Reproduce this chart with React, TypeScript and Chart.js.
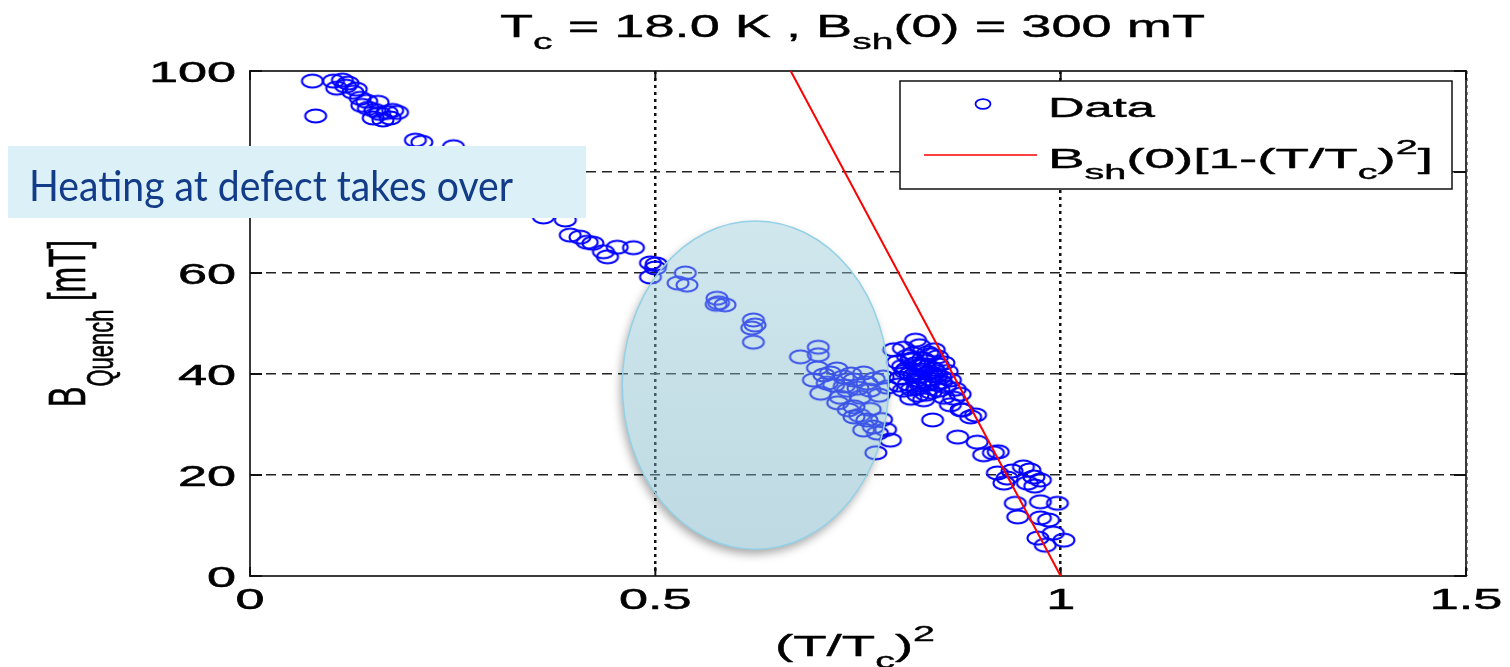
import React, { useEffect, useRef } from "react";
import { Chart, registerables } from "chart.js";

Chart.register(...registerables);

// ---------- data ----------
const dataX = [
  0.077, 0.081, 0.103, 0.107, 0.114, 0.121, 0.127, 0.136, 0.138, 0.146, 0.154, 0.160, 0.169, 0.176, 0.182, 0.152, 0.164, 0.173, 0.158, 0.144, 0.131, 0.118,
  0.204, 0.212, 0.251, 0.275, 0.300, 0.325, 0.345, 0.362, 0.389, 0.395, 0.407, 0.416, 0.423, 0.436, 0.441, 0.453, 0.473, 0.494, 0.500, 0.494, 0.501,
  0.537, 0.528, 0.539, 0.576, 0.578, 0.586, 0.575, 0.621, 0.623, 0.619, 0.621, 0.679, 0.701, 0.701,
  0.700, 0.695, 0.704, 0.716, 0.720, 0.725, 0.732, 0.737, 0.745, 0.745, 0.753, 0.757, 0.761, 0.765, 0.761, 0.769, 0.757, 0.774, 0.772, 0.745, 0.738, 0.728, 0.712, 0.781, 0.786, 0.794, 0.790, 0.708, 0.724, 0.741, 0.750, 0.770, 0.776, 0.733, 0.765, 0.752, 0.779, 0.784,
  0.821, 0.806, 0.799, 0.815, 0.836, 0.848, 0.856, 0.802, 0.819, 0.836, 0.852, 0.864, 0.806, 0.823, 0.840, 0.856, 0.868, 0.815, 0.831, 0.864, 0.879, 0.889, 0.842,
  0.810, 0.826, 0.830, 0.843, 0.812, 0.828, 0.846, 0.858, 0.818, 0.834, 0.850, 0.824, 0.808, 0.838, 0.826, 0.844, 0.800, 0.860, 0.870, 0.876,
  0.814, 0.820, 0.824, 0.829, 0.833, 0.837, 0.841, 0.816, 0.822, 0.827, 0.832, 0.845, 0.849, 0.811, 0.817, 0.839, 0.853, 0.805, 0.847, 0.835,
  0.873, 0.897, 0.905, 0.917, 0.923, 0.922, 0.934, 0.930, 0.954, 0.967, 0.959, 0.975, 0.944, 0.947, 0.975, 0.996, 0.975, 0.985, 1.004, 0.981, 0.991, 0.972, 0.962, 0.940, 0.968, 0.877, 0.895,
];
const dataY = [
  98.0, 91.1, 98.0, 96.6, 98.2, 97.6, 95.8, 94.6, 93.2, 92.6, 92.2, 91.6, 91.8, 92.2, 91.8, 90.7, 90.3, 90.7, 93.8, 94.0, 96.4, 97.0,
  86.3, 85.9, 85.0, 81.5, 78.0, 75.0, 72.5, 71.1, 70.5, 67.5, 67.1, 66.1, 65.9, 64.2, 63.2, 65.1, 65.0, 62.0, 61.0, 59.2, 61.8,
  60.0, 58.0, 57.6, 55.0, 54.1, 53.7, 53.8, 50.7, 49.7, 49.1, 46.3, 43.4, 45.3, 43.8,
  41.2, 38.8, 36.2, 40.2, 37.8, 34.3, 39.4, 36.8, 33.5, 38.8, 35.4, 40.2, 38.2, 36.8, 30.9, 29.5, 28.9, 28.3, 24.4, 31.5, 32.9, 35.4, 38.2, 39.4, 37.4, 44.8, 26.9, 39.8, 41.0, 40.0, 37.2, 39.0, 35.8, 37.6, 33.0, 31.8, 31.0, 29.0,
  46.7, 45.1, 42.4, 42.8, 44.2, 43.4, 42.2, 39.2, 39.8, 40.2, 39.4, 38.8, 36.8, 37.2, 36.4, 35.4, 35.2, 35.2, 34.9, 33.9, 32.9, 31.5, 30.9,
  41.0, 41.5, 43.0, 41.0, 38.0, 38.5, 38.0, 37.5, 44.0, 36.0, 36.8, 35.8, 40.5, 39.0, 45.6, 44.8, 37.8, 40.5, 37.0, 36.0,
  40.0, 42.0, 39.5, 40.8, 42.5, 38.0, 39.8, 37.0, 38.8, 37.8, 41.8, 40.5, 41.8, 43.5, 43.0, 43.8, 38.4, 41.5, 39.6, 38.2,
  27.5, 26.5, 24.0, 24.4, 24.6, 20.4, 19.4, 18.4, 21.6, 19.6, 18.4, 19.0, 14.4, 11.7, 14.7, 14.4, 11.5, 11.1, 7.1, 6.1, 8.5, 7.5, 21.0, 20.8, 17.8, 32.9, 31.9,
];
// model curve Bsh(0)[1-(T/Tc)^2], read where it enters/leaves the plot
const fitX = [0.667, 1.0];
const fitY = [100, 0];

const xTickValues = [0, 0.5, 1, 1.5];
const xTickLabels = ["0", "0.5", "1", "1.5"];
const yTickValues = [0, 20, 40, 60, 80, 100];
const yTickLabels = ["0", "20", "40", "60", "80", "100"];

type Seg = { t: string; s?: "sub" | "sup" };
const titleSegs: Seg[] = [{ t: "T" }, { t: "c", s: "sub" }, { t: " = 18.0 K , B" }, { t: "sh", s: "sub" }, { t: "(0) = 300 mT" }];
const xLabelSegs: Seg[] = [{ t: "(T/T" }, { t: "c", s: "sub" }, { t: ")" }, { t: "2", s: "sup" }];
const yLabelSegs: Seg[] = [{ t: "B" }, { t: "Quench", s: "sub" }, { t: " [mT]" }];
const legendDataSegs: Seg[] = [{ t: "Data" }];
const legendFitSegs: Seg[] = [{ t: "B" }, { t: "sh", s: "sub" }, { t: "(0)[1-(T/T" }, { t: "c", s: "sub" }, { t: ")" }, { t: "2", s: "sup" }, { t: "]" }];
const annotationText = "Heating at defect takes over";

const ARIAL = "'Liberation Sans', Arial, sans-serif";

function measureRich(ctx: CanvasRenderingContext2D, segs: Seg[], size: number, family: string) {
  let w = 0;
  for (const sg of segs) {
    ctx.font = `${sg.s ? size * 0.72 : size}px ${family}`;
    w += ctx.measureText(sg.t).width;
  }
  return w;
}

function drawSegs(ctx: CanvasRenderingContext2D, segs: Seg[], size: number, family: string, subOff: number, supOff: number, stroke = 0) {
  let cx = 0;
  for (const sg of segs) {
    const fs = sg.s ? size * 0.72 : size;
    ctx.font = `${fs}px ${family}`;
    const dy = sg.s === "sub" ? size * subOff : sg.s === "sup" ? -size * supOff : 0;
    ctx.fillText(sg.t, cx, dy);
    if (stroke > 0) {
      ctx.lineWidth = stroke;
      ctx.strokeText(sg.t, cx, dy);
    }
    cx += ctx.measureText(sg.t).width;
  }
}

// horizontal rich text, stretched to a target width
function drawRichFit(ctx: CanvasRenderingContext2D, segs: Seg[], x: number, y: number, width: number, size: number, family: string, color: string, subOff = 0.4, supOff = 0.45, stroke = 0.4) {
  const nat = measureRich(ctx, segs, size, family);
  ctx.save();
  ctx.fillStyle = color;
  ctx.strokeStyle = color;
  ctx.lineJoin = "round";
  ctx.textBaseline = "alphabetic";
  ctx.textAlign = "left";
  ctx.translate(x, y);
  ctx.scale(width / nat, 1);
  drawSegs(ctx, segs, size, family, subOff, supOff, stroke);
  ctx.restore();
}

function makeMarker(w: number, h: number, rx: number, ry: number, lw: number) {
  const c = document.createElement("canvas");
  c.width = w;
  c.height = h;
  const g = c.getContext("2d")!;
  g.strokeStyle = "#0000ff";
  g.lineWidth = lw;
  g.beginPath();
  g.ellipse(w / 2, h / 2, rx, ry, 0, 0, Math.PI * 2);
  g.stroke();
  return c;
}
const markerCanvas = makeMarker(26, 18, 10.5, 6.5, 2);
const legendMarker = makeMarker(20, 14, 7.5, 4.8, 1.8);

const decorPlugin = {
  id: "decor",
  beforeDatasetsDraw(chart: any) {
    const { ctx, chartArea: a } = chart;
    ctx.save();
    ctx.strokeStyle = "#3a3a3a";
    ctx.lineWidth = 2;
    ctx.strokeRect(a.left, a.top, a.right - a.left, a.bottom - a.top);
    const xs = chart.scales.x, ys = chart.scales.y;
    ctx.strokeStyle = "#111";
    ctx.lineWidth = 2;
    ctx.beginPath();
    for (const v of xTickValues) {
      const px = xs.getPixelForValue(v);
      ctx.moveTo(px, a.bottom); ctx.lineTo(px, a.bottom - 9);
      ctx.moveTo(px, a.top); ctx.lineTo(px, a.top + 9);
    }
    for (const v of yTickValues) {
      const py = ys.getPixelForValue(v);
      ctx.moveTo(a.left, py); ctx.lineTo(a.left + 12, py);
      ctx.moveTo(a.right, py); ctx.lineTo(a.right - 12, py);
    }
    ctx.stroke();
    ctx.restore();
  },
  afterDraw(chart: any) {
    const { ctx } = chart;
    const xs = chart.scales.x, ys = chart.scales.y;

    // highlighted ellipse (semi-transparent, over the data)
    const cx = xs.getPixelForValue(0.6235), cy = ys.getPixelForValue(37.8);
    const rx = xs.getPixelForValue(0.6235 + 0.1642) - cx;
    const ry = cy - ys.getPixelForValue(37.8 + 32.5);
    ctx.save();
    ctx.beginPath();
    ctx.rect(0, 0, 1510, 667);
    ctx.ellipse(cx, cy, rx, ry, 0, 0, Math.PI * 2);
    ctx.clip("evenodd");
    ctx.shadowColor = "rgba(0,0,0,0.35)";
    ctx.shadowBlur = 10;
    ctx.shadowOffsetX = -2;
    ctx.shadowOffsetY = 5;
    ctx.fillStyle = "#fff";
    ctx.beginPath();
    ctx.ellipse(cx, cy, rx, ry, 0, 0, Math.PI * 2);
    ctx.fill();
    ctx.restore();
    ctx.save();
    const grad = ctx.createLinearGradient(0, cy - ry, 0, cy + ry);
    grad.addColorStop(0, "rgba(150,202,215,0.45)");
    grad.addColorStop(1, "rgba(112,172,192,0.45)");
    ctx.fillStyle = grad;
    ctx.beginPath();
    ctx.ellipse(cx, cy, rx, ry, 0, 0, Math.PI * 2);
    ctx.fill();
    ctx.strokeStyle = "#95d1e6";
    ctx.lineWidth = 1.5;
    ctx.stroke();
    ctx.restore();

    // tick labels
    ctx.save();
    ctx.fillStyle = "#000";
    ctx.strokeStyle = "#000";
    ctx.lineWidth = 0.5;
    const tsx = 1.8, tfs = 29;
    ctx.font = `${tfs}px ${ARIAL}`;
    xTickValues.forEach((v, i) => {
      const px = xs.getPixelForValue(v);
      const w = ctx.measureText(xTickLabels[i]).width * tsx;
      ctx.save();
      ctx.translate(px - w / 2, 609);
      ctx.scale(tsx, 1);
      ctx.fillText(xTickLabels[i], 0, 0);
      ctx.strokeText(xTickLabels[i], 0, 0);
      ctx.restore();
    });
    yTickValues.forEach((v, i) => {
      const py = ys.getPixelForValue(v);
      const w = ctx.measureText(yTickLabels[i]).width * tsx;
      ctx.save();
      ctx.translate(236 - w, py + 10.5);
      ctx.scale(tsx, 1);
      ctx.fillText(yTickLabels[i], 0, 0);
      ctx.strokeText(yTickLabels[i], 0, 0);
      ctx.restore();
    });
    ctx.restore();

    // title & axis titles
    drawRichFit(ctx, titleSegs, 500, 37, 705, 31, ARIAL, "#000", 0.38, 0.45);
    drawRichFit(ctx, xLabelSegs, 775, 656, 160, 30, ARIAL, "#000", 0.4, 0.5);
    {
      const size = 30;
      const nat = measureRich(ctx, yLabelSegs, size, ARIAL);
      ctx.save();
      ctx.fillStyle = "#000";
      ctx.strokeStyle = "#000";
      ctx.translate(85, 407);
      ctx.scale(1.7, 1);
      ctx.rotate(-Math.PI / 2);
      ctx.scale(167 / nat, 1);
      drawSegs(ctx, yLabelSegs, size, ARIAL, 0.55, 0.45, 0.4);
      ctx.restore();
    }

    // legend
    ctx.save();
    ctx.fillStyle = "#fff";
    ctx.fillRect(900, 81, 552, 108);
    ctx.strokeStyle = "#111";
    ctx.lineWidth = 1.5;
    ctx.strokeRect(900, 81, 552, 108);
    ctx.drawImage(legendMarker, 983 - legendMarker.width / 2, 104 - legendMarker.height / 2);
    ctx.strokeStyle = "#ff0000";
    ctx.lineWidth = 1.5;
    ctx.beginPath();
    ctx.moveTo(924, 155);
    ctx.lineTo(1037, 155);
    ctx.stroke();
    ctx.restore();
    drawRichFit(ctx, legendDataSegs, 1048, 117, 107, 27, ARIAL, "#000");
    drawRichFit(ctx, legendFitSegs, 1048, 168, 385, 28, ARIAL, "#000", 0.4, 0.5);

    // annotation box
    ctx.save();
    ctx.fillStyle = "#dcf0f8";
    ctx.fillRect(8, 146, 578, 72);
    ctx.restore();
    drawRichFit(ctx, [{ t: annotationText }], 29, 201, 484, 42, "Lato, 'Open Sans', sans-serif", "#123c88", 0.4, 0.45, 0);
  },
};

export default function App() {
  const ref = useRef<HTMLCanvasElement>(null);
  useEffect(() => {
    document.body.style.margin = "0";
    document.body.style.overflow = "hidden";
    const canvas = ref.current!;
    const chart = new Chart(canvas, {
      type: "scatter",
      data: {
        datasets: [
          {
            type: "line",
            label: "Bsh(0)[1-(T/Tc)^2]",
            data: fitX.map((x, i) => ({ x, y: fitY[i] })),
            borderColor: "#ff0000",
            borderWidth: 2,
            pointRadius: 0,
            fill: false,
            tension: 0,
          } as any,
          {
            label: "Data",
            data: dataX.map((x, i) => ({ x, y: dataY[i] })),
            pointStyle: markerCanvas as any,
            pointRadius: 8,
            showLine: false,
          },
        ],
      },
      options: {
        animation: false,
        responsive: false,
        devicePixelRatio: 1,
        events: [],
        layout: { padding: { left: 250, top: 71, right: 44, bottom: 91 } },
        plugins: { legend: { display: false }, tooltip: { enabled: false }, title: { display: false } },
        scales: {
          x: {
            type: "linear",
            min: 0,
            max: 1.5,
            afterBuildTicks: (axis: any) => {
              axis.ticks = xTickValues.map((v) => ({ value: v }));
            },
            ticks: { display: false },
            grid: {
              drawTicks: false,
              lineWidth: 2.5,
              color: (c: any) => (c.tick && c.tick.value === 0 ? "rgba(0,0,0,0)" : "#111"),
            },
            border: { display: false, dash: [3, 4] },
          },
          y: {
            type: "linear",
            min: 0,
            max: 100,
            afterBuildTicks: (axis: any) => {
              axis.ticks = yTickValues.map((v) => ({ value: v }));
            },
            ticks: { display: false },
            grid: {
              drawTicks: false,
              lineWidth: 1.5,
              color: (c: any) => (c.tick && c.tick.value === 0 ? "rgba(0,0,0,0)" : "#222"),
            },
            border: { display: false, dash: [10, 6] },
          },
        },
      },
      plugins: [decorPlugin],
    });
    return () => chart.destroy();
  }, []);
  return (
    <div style={{ position: "fixed", left: 0, top: 0, width: 1510, height: 667, background: "#fff" }}>
      <canvas ref={ref} width={1510} height={667} style={{ display: "block", width: 1510, height: 667 }} />
    </div>
  );
}
